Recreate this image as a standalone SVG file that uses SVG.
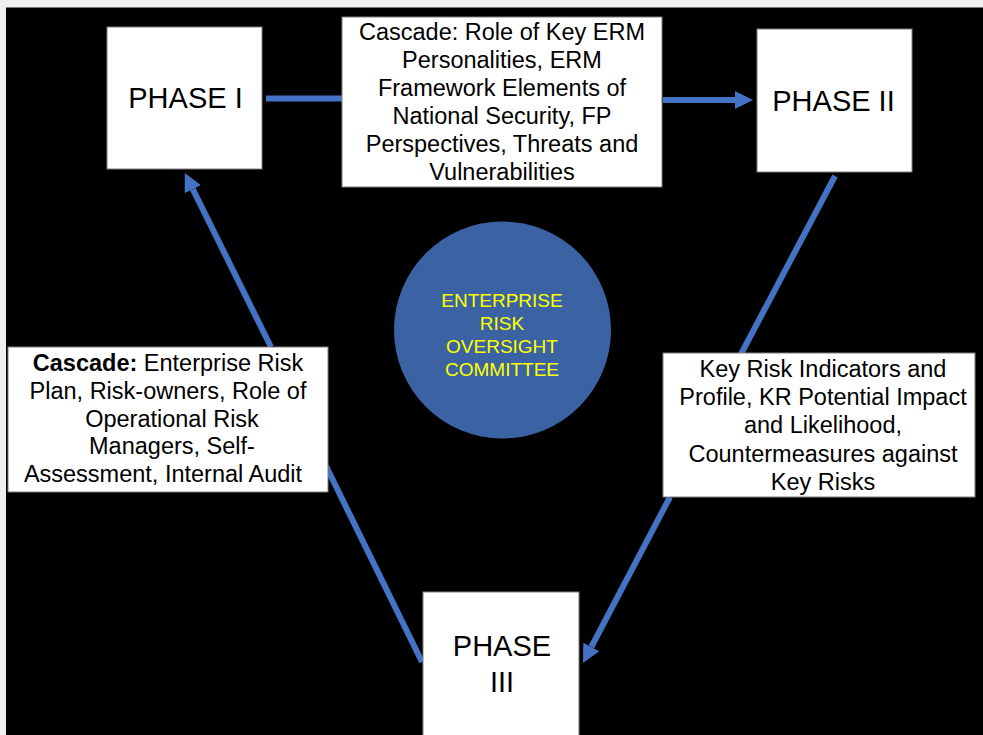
<svg xmlns="http://www.w3.org/2000/svg" width="983" height="735" viewBox="0 0 983 735">
<style>
.box{fill:#ffffff;stroke:#7f7f7f;stroke-width:1}
.t{font-family:"Liberation Sans",Arial,sans-serif;fill:#000000;text-anchor:middle}
.ph{font-size:29px}
.bt{font-size:23.5px}
.ct{font-family:"Liberation Sans",Arial,sans-serif;fill:#ffff00;font-size:19px;text-anchor:middle}
.conn{stroke:#4472c4;stroke-width:6;fill:none}
</style>
<defs>
<marker id="ah" markerUnits="userSpaceOnUse" markerWidth="18" markerHeight="18" viewBox="0 0 18 18" refX="0" refY="9" orient="auto">
<path d="M0,0 L18,9 L0,18 z" fill="#4472c4"/>
</marker>
</defs>
<rect x="0" y="0" width="983" height="735" fill="#eef0ef"/>
<rect x="6" y="7.5" width="977" height="727.5" fill="#000000"/>
<g id="connectors">
<line class="conn" x1="266" y1="98.5" x2="344" y2="98.5"/>
<line class="conn" x1="663" y1="100" x2="735" y2="100" marker-end="url(#ah)"/>
<line class="conn" x1="835" y1="176" x2="740" y2="356"/>
<line class="conn" x1="670" y1="497" x2="591.3" y2="647" marker-end="url(#ah)"/>
<line class="conn" x1="422" y1="662" x2="326" y2="466"/>
<line class="conn" x1="271" y1="347" x2="192.8" y2="189.2" marker-end="url(#ah)"/>
</g>
<g id="phase1">
<rect class="box" x="107" y="27" width="155" height="142"/>
<text class="t ph" x="185.5" y="108">PHASE I</text>
</g>
<g id="phase2">
<rect class="box" x="757" y="29" width="155" height="143"/>
<text class="t ph" x="833.5" y="111">PHASE II</text>
</g>
<g id="phase3">
<rect class="box" x="423" y="592" width="156" height="145"/>
<text class="t ph" x="502" y="656">PHASE</text>
<text class="t ph" x="502" y="692">III</text>
</g>
<g id="cascade1">
<rect class="box" x="342" y="17" width="320" height="170"/>
<text class="t bt" x="502" y="40">Cascade: Role of Key ERM</text>
<text class="t bt" x="502" y="68">Personalities, ERM</text>
<text class="t bt" x="502" y="96">Framework Elements of</text>
<text class="t bt" x="502" y="124">National Security, FP</text>
<text class="t bt" x="502" y="152">Perspectives, Threats and</text>
<text class="t bt" x="502" y="180">Vulnerabilities</text>
</g>
<g id="keyrisk">
<rect class="box" x="663" y="353" width="312" height="144"/>
<text class="t bt" x="823" y="377">Key Risk Indicators and</text>
<text class="t bt" x="823" y="405">Profile, KR Potential Impact</text>
<text class="t bt" x="823" y="433">and Likelihood,</text>
<text class="t bt" x="823" y="462">Countermeasures against</text>
<text class="t bt" x="823" y="490">Key Risks</text>
</g>
<g id="cascade3">
<rect class="box" x="8" y="347" width="320" height="145"/>
<text class="t bt" x="168" y="371"><tspan font-weight="bold">Cascade:</tspan> Enterprise Risk</text>
<text class="t bt" x="168" y="399">Plan, Risk-owners, Role of</text>
<text class="t bt" x="172" y="426.5">Operational Risk</text>
<text class="t bt" x="172" y="454">Managers, Self-</text>
<text class="t bt" x="163" y="482">Assessment, Internal Audit</text>
</g>
<g id="committee">
<circle cx="502.5" cy="330" r="108.5" fill="#3b63a3"/>
<text class="ct" x="502" y="307">ENTERPRISE</text>
<text class="ct" x="502" y="330">RISK</text>
<text class="ct" x="502" y="353">OVERSIGHT</text>
<text class="ct" x="502" y="376">COMMITTEE</text>
</g>
</svg>
